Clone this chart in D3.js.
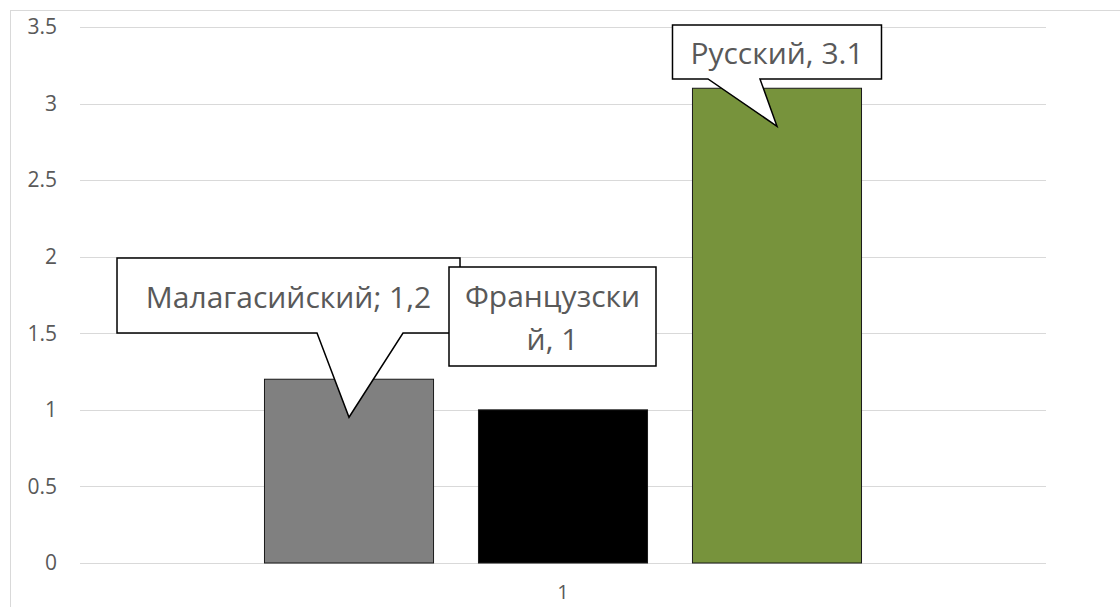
<!DOCTYPE html>
<html>
<head>
<meta charset="utf-8">
<script src="https://cdn.jsdelivr.net/npm/d3@7"></script>
<style>
  body { margin: 0; background: #fff; }
  text { font-family: "Open Sans", "Liberation Sans", sans-serif; }
</style>
</head>
<body>
<svg id="chart" width="1120" height="607"></svg>
<script>
/*global d3*/
// data
const categories = ["1"]
const series = ["Малагасийский", "Французский", "Русский"]
const values = [1.2, 1, 3.1]
const colors = ["#808080", "#000000", "#77933C"]
const yTicks = [0, 0.5, 1, 1.5, 2, 2.5, 3, 3.5]

// callout text lines per series
const labelLines = [["Малагасийский; 1,2"], ["Французски", "й, 1"], ["Русский, 3.1"]]

const svg = d3.select("#chart")

// chart border
svg.append("rect")
  .attr("x", 10.5).attr("y", 10.5)
  .attr("width", 1130).attr("height", 620)
  .attr("fill", "none").attr("stroke", "#d9d9d9")

const plot = { left: 80, right: 1046, top: 27, bottom: 563 }

const y = d3.scaleLinear().domain([0, 3.5]).range([plot.bottom, plot.top])
const x0 = d3.scaleBand().domain(categories).range([plot.left, plot.right]).paddingOuter(0.309).paddingInner(0)
const x1 = d3.scaleBand().domain(series).range([0, x0.bandwidth()]).paddingInner(0.21).paddingOuter(0)

// gridlines
svg.append("g")
  .selectAll("line")
  .data(yTicks)
  .join("line")
  .attr("x1", plot.left).attr("x2", plot.right)
  .attr("y1", d => Math.round(y(d)) + 0.5)
  .attr("y2", d => Math.round(y(d)) + 0.5)
  .attr("stroke", "#d9d9d9").attr("stroke-width", 1)

// y axis labels
const yAxis = d3.axisLeft(y).tickValues(yTicks).tickSize(0).tickPadding(0).tickFormat(d3.format("~g"))
const gy = svg.append("g").attr("transform", "translate(57,0)").call(yAxis)
gy.select(".domain").remove()
gy.selectAll("text").attr("fill", "#595959")
  .style("font-size", "21px")
  .style("font-family", "Open Sans, sans-serif")

// x axis label
const xAxis = d3.axisBottom(x0).tickSize(0).tickPadding(0)
const gx = svg.append("g").attr("transform", "translate(0," + (plot.bottom + 20) + ")").call(xAxis)
gx.select(".domain").remove()
gx.selectAll("text").attr("fill", "#595959").attr("dy", "0.8em")
  .style("font-size", "20px")
  .style("font-family", "Open Sans, sans-serif")

// bars
const barData = series.map((s, i) => ({ s, v: values[i], c: colors[i], lines: labelLines[i] }))
svg.append("g")
  .selectAll("rect")
  .data(barData)
  .join("rect")
  .attr("x", d => x0("1") + x1(d.s))
  .attr("y", d => y(d.v))
  .attr("width", x1.bandwidth())
  .attr("height", d => y(0) - y(d.v))
  .attr("fill", d => d.c)
  .attr("stroke", "#1a1a1a").attr("stroke-width", 1)

// callouts: box offsets relative to bar centre, pointer relative to tip
const callouts = [
  { box: [-232, 111, 258, 333], tip: 38, base: [-32, 54], text: [308] },
  { box: [-114, 93, 267, 366], tip: null, base: null, text: [307, 350] },
  { box: [-104.5, 104.5, 25, 79], tip: 38, base: [-69, -17], text: [64] }
]

const cg = svg.append("g")
barData.forEach((d, i) => {
  const c = callouts[i]
  const cx = x0("1") + x1(d.s) + x1.bandwidth() / 2
  const L = cx + c.box[0], R = cx + c.box[1], T = c.box[2], B = c.box[3]
  let pts = [[L, T], [R, T], [R, B]]
  if (c.tip !== null) {
    const ty = y(d.v) + c.tip
    pts.push([cx + c.base[1], B], [cx, ty], [cx + c.base[0], B])
  }
  pts.push([L, B])
  cg.append("path")
    .attr("d", d3.line()(pts) + "Z")
    .attr("fill", "#fff").attr("stroke", "#000").attr("stroke-width", 1.5)
  const midX = (L + R) / 2
  d.lines.forEach((t, j) => {
    cg.append("text")
      .attr("x", midX).attr("y", c.text[j])
      .attr("text-anchor", "middle")
      .attr("font-size", 30)
      .attr("fill", "#595959")
      .text(t)
  })
})
</script>
</body>
</html>
